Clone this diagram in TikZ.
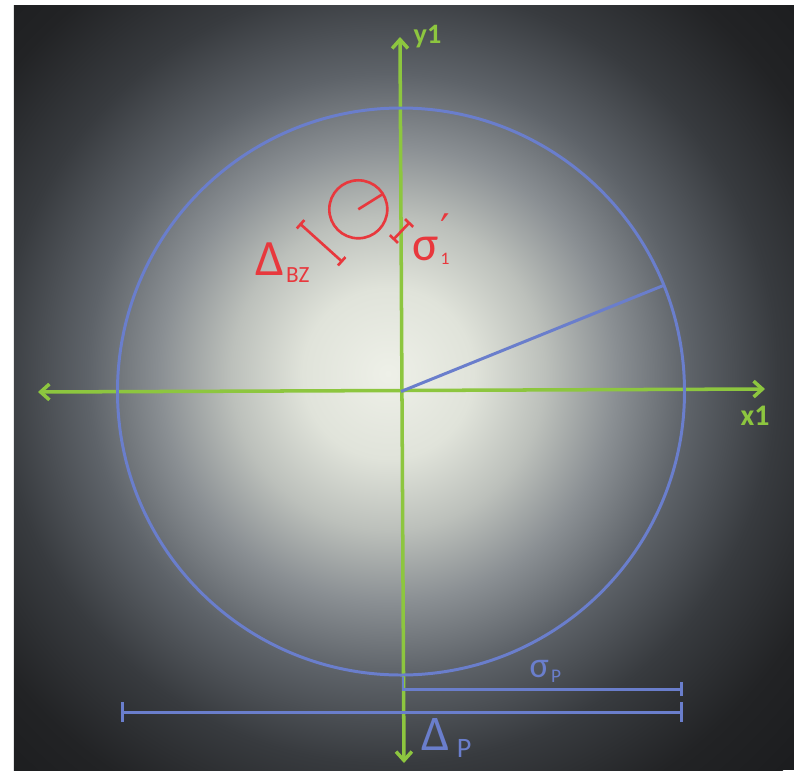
\documentclass[tikz,border=0pt]{standalone}
\usepackage{fontspec}
\setmainfont{Carlito}
\newfontfamily\primefont{DejaVu Sans}
\usepackage{xcolor}
\usetikzlibrary{arrows.meta}
\usetikzlibrary{calc, math}
\definecolor{myblue}{RGB}{106,126,204}
\definecolor{myred}{RGB}{232,56,61}
\definecolor{mygreen}{RGB}{141,198,63}
\definecolor{mydark}{RGB}{28,29,31}
\definecolor{glowa}{RGB}{238,240,232}
\definecolor{glowb}{RGB}{224,227,218}
\definecolor{glowc}{RGB}{188,192,187}
\definecolor{glowd}{RGB}{138,143,147}
\definecolor{glowe}{RGB}{94,99,105}
\definecolor{glowf}{RGB}{56,59,63}
\definecolor{glowg}{RGB}{34,35,37}
\pgfdeclareradialshading{glow}{\pgfpoint{0bp}{0bp}}{color(0bp)=(glowa); color(3.8bp)=(glowb); color(7bp)=(glowc); color(10.2bp)=(glowd); color(13.4bp)=(glowe); color(17.4bp)=(glowf); color(21.6bp)=(glowg); color(25bp)=(mydark); color(50bp)=(mydark)}
\tikzset{
  greenaxis/.style={color=mygreen, line width=1pt, {Straight Barb[length=2.5pt,width=4.5pt]}-{Straight Barb[length=2.5pt,width=4.5pt]}},
  blueline/.style={color=myblue, line width=0.85pt},
  redline/.style={color=myred, line width=0.75pt},
  lbl/.style={inner sep=0pt, anchor=base west},
}

\begin{document}
\begin{tikzpicture}
\tikzmath{
\r=2.835;
\rs=0.29;
\xs=-0.427;
\ys=1.822;
}
\useasboundingbox (-4.01,-3.785) rectangle (3.93,3.915);
\fill[white] (-4.01,-3.785) rectangle (3.93,3.915);
\fill[mydark] (-3.87,-3.785) rectangle (3.93,3.865);
\begin{scope}
\clip (-3.87,-3.785) rectangle (3.93,3.865);
\shade[shading=glow] (-0.13,0.18) circle (5.6);
\end{scope}

% axes
\coordinate (O) at (0,0);
\draw[greenaxis] (-3.63,-0.005) -- (3.64,0.025);
\draw[greenaxis] (0.03,-3.715) -- (-0.01,3.545);
\node[lbl, mygreen, font=\fontsize{8.5}{8.5}\selectfont\bfseries] (xlabel) at (3.39,-0.335) {x1};
\node[lbl, mygreen, font=\fontsize{8}{8}\selectfont\bfseries] (ylabel) at (0.12,3.485) {y1};

% big circle
\draw[blueline] (O) circle (\r);
\draw[blueline] (O) -- (22:\r);
\draw[blueline, -{Bar[width=4pt]}] (0.02,-2.855) -- (0.02,-2.975) -- (2.82,-2.975);
\draw[blueline, {Bar[width=5.7pt]}-{Bar[width=5.7pt]}] (-2.80,-3.205) -- (2.82,-3.205);
\node[lbl, myblue] (sigP) at (1.28,-2.855) {\fontsize{10.3}{10.3}\selectfont σ\hspace{0.6pt}\raisebox{-1.7pt}{\fontsize{5.5}{5.5}\selectfont P}};
\node[lbl, myblue] (deltaP) at (0.20,-3.585) {\fontsize{14.2}{14.2}\selectfont Δ\hspace{2pt}\raisebox{-2pt}{\fontsize{8}{8}\selectfont P}};

% small circle
\coordinate (S) at (\xs,\ys);
\draw[redline] (S) circle (\rs);
\draw[redline] (S) -- ++(32:\rs);
\draw[redline, {Bar[width=3.2pt]}-{Bar[width=3.2pt]}] ($(S)+(222:0.5)+(138:\rs)$) -- ($(S)+(222:0.5)+(-42:\rs)$);
\draw[redline, {Bar[width=3.2pt]}-{Bar[width=3.2pt]}] (-0.08,1.515) -- (0.09,1.695);
\node[lbl, myred] (deltaBZ) at (-1.46,1.165) {\fontsize{14.5}{14.5}\selectfont Δ\hspace{0.5pt}\raisebox{-2pt}{\fontsize{6.6}{6.6}\selectfont BZ}};
\node[lbl, myred] (sig1) at (0.11,1.315) {\fontsize{14}{14}\selectfont σ\hspace{0.5pt}\rlap{\raisebox{4.5pt}{\primefont\fontsize{12}{12}\selectfont ′}}\raisebox{-1.2pt}{\fontsize{5}{5}\selectfont 1}};
\end{tikzpicture}
\end{document}
